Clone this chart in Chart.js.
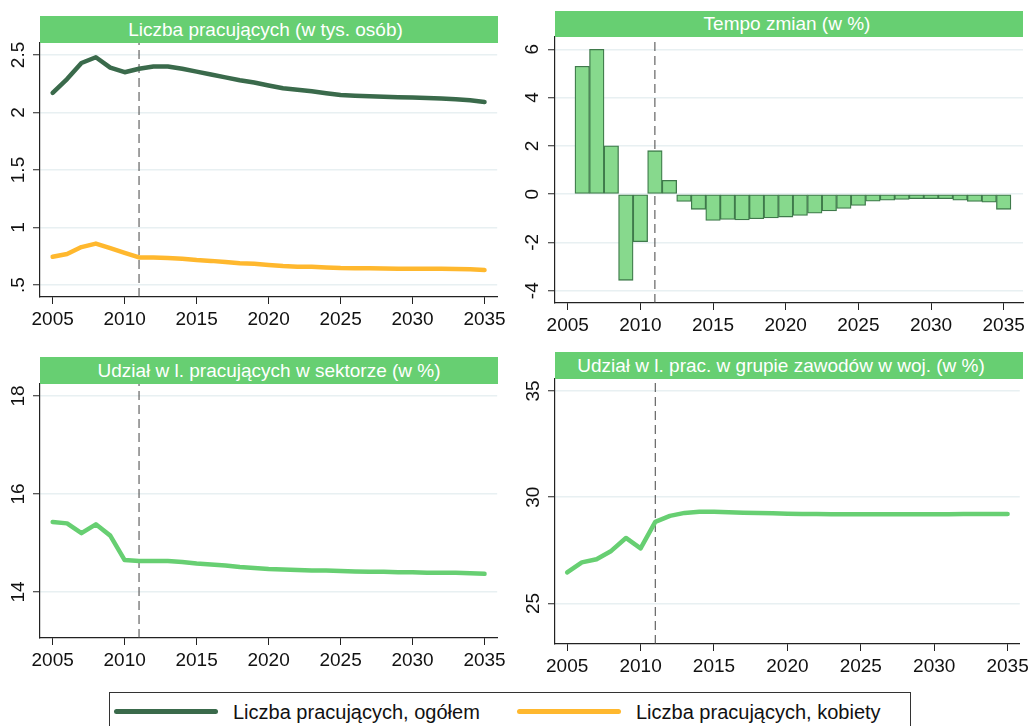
<!DOCTYPE html>
<html>
<head>
<meta charset="utf-8">
<script src="https://cdn.jsdelivr.net/npm/chart.js@4.4.1/dist/chart.umd.min.js"></script>
<style>
  html, body { margin: 0; padding: 0; background: #fff; }
  body { width: 1033px; height: 726px; overflow: hidden; position: relative; font-family: "Liberation Sans", Arial, sans-serif; }
  canvas { position: absolute; }
  .tb { position: absolute; background: #67cf72; color: #fff; font-size: 19px; text-align: center; white-space: nowrap; box-sizing: border-box; }
  .legend { position: absolute; left: 109px; top: 692px; width: 802px; height: 45px; border: 1px solid #333; background: #fff; box-sizing: border-box; }
  .sw { position: absolute; height: 5px; border-radius: 3px; }
  .lt { position: absolute; font-size: 20px; line-height: 24px; color: #111; white-space: nowrap; }
</style>
</head>
<body>

<canvas id="c1" width="510" height="340" style="left:0px;top:0px"></canvas>
<canvas id="c2" width="523" height="340" style="left:510px;top:0px"></canvas>
<canvas id="c3" width="510" height="340" style="left:0px;top:340px"></canvas>
<canvas id="c4" width="523" height="345" style="left:510px;top:340px"></canvas>

<div class="tb" id="t1" style="left:40px;top:16px;width:458px;height:27px;line-height:27px;padding-right:7px"></div>
<div class="tb" id="t2" style="left:555px;top:11px;width:468px;height:26px;line-height:26px;padding-right:4px"></div>
<div class="tb" id="t3" style="left:40px;top:357px;width:458px;height:27px;line-height:27px"></div>
<div class="tb" id="t4" style="left:555px;top:352px;width:468px;height:27px;line-height:27px;padding-right:16px"></div>

<div class="legend"></div>
<div class="sw" id="sw1" style="left:114px;top:709px;width:104px"></div>
<div class="lt" id="lt1" style="left:233px;top:700px"></div>
<div class="sw" id="sw2" style="left:517px;top:709px;width:104px"></div>
<div class="lt" id="lt2" style="left:636px;top:700px"></div>

<script>
// ---------------- DATA ----------------
const titles = [
  "Liczba pracujących (w tys. osób)",
  "Tempo zmian (w %)",
  "Udział w l. pracujących w sektorze (w %)",
  "Udział w l. prac. w grupie zawodów w woj. (w %)"
];
const legendLabels = ["Liczba pracujących, ogółem", "Liczba pracujących, kobiety"];

const years = [2005,2006,2007,2008,2009,2010,2011,2012,2013,2014,2015,2016,2017,2018,2019,2020,
               2021,2022,2023,2024,2025,2026,2027,2028,2029,2030,2031,2032,2033,2034,2035];
const growthYears = [2006,2007,2008,2009,2010,2011,2012,2013,2014,2015,2016,2017,2018,2019,2020,
                     2021,2022,2023,2024,2025,2026,2027,2028,2029,2030,2031,2032,2033,2034,2035];

const employedTotal = [2.17,2.29,2.43,2.48,2.39,2.35,2.38,2.40,2.40,2.38,2.355,2.33,2.305,2.28,2.26,2.235,
                       2.21,2.198,2.184,2.167,2.152,2.146,2.141,2.136,2.132,2.13,2.126,2.121,2.116,2.106,2.092];
const employedWomen = [0.746,0.77,0.83,0.86,0.82,0.78,0.74,0.74,0.735,0.728,0.717,0.71,0.70,0.69,0.685,0.675,
                       0.665,0.66,0.658,0.653,0.648,0.647,0.646,0.643,0.642,0.641,0.641,0.641,0.64,0.637,0.63];
const growthRate = [5.3,6.0,2.0,-3.57,-1.97,1.8,0.57,-0.3,-0.63,-1.09,-1.05,-1.07,-1.02,-0.99,-0.95,
                    -0.88,-0.79,-0.70,-0.59,-0.47,-0.29,-0.25,-0.22,-0.19,-0.19,-0.19,-0.25,-0.30,-0.33,-0.63];
const sectorShare = [15.43,15.40,15.20,15.38,15.15,14.65,14.63,14.63,14.63,14.61,14.58,14.56,14.54,14.51,14.49,14.47,
                     14.46,14.45,14.44,14.44,14.43,14.42,14.41,14.41,14.40,14.40,14.39,14.39,14.39,14.38,14.37];
const occupationShare = [26.46,26.93,27.08,27.47,28.08,27.59,28.84,29.12,29.26,29.31,29.31,29.29,29.27,29.26,29.24,29.22,
                         29.21,29.21,29.20,29.20,29.20,29.20,29.20,29.20,29.20,29.20,29.20,29.21,29.21,29.21,29.21];

const xTicks = [2005,2010,2015,2020,2025,2030,2035];
const p1YTicks = [0.5,1,1.5,2,2.5];
const p1YLabels = [".5","1","1.5","2","2.5"];
const p2YTicks = [-4,-2,0,2,4,6];
const p2YLabels = ["-4","-2","0","2","4","6"];
const p3YTicks = [14,16,18];
const p3YLabels = ["14","16","18"];
const p4YTicks = [25,30,35];
const p4YLabels = ["25","30","35"];
const markerYear = 2011;

// ---------------- STYLE ----------------
const FONT = "'Liberation Sans', Arial, sans-serif";
const C_DARK = "#3a6a4b";
const C_ORANGE = "#ffb82e";
const C_GREEN = "#67cf72";
const C_BAR = "#87d98d";
const C_BAR_EDGE = "#3f7a4b";
const C_AXIS = "#222";
const C_GRID = "#e8f0f2";

document.getElementById("t1").textContent = titles[0];
document.getElementById("t2").textContent = titles[1];
document.getElementById("t3").textContent = titles[2];
document.getElementById("t4").textContent = titles[3];
document.getElementById("lt1").textContent = legendLabels[0];
document.getElementById("lt2").textContent = legendLabels[1];
document.getElementById("sw1").style.background = C_DARK;
document.getElementById("sw2").style.background = C_ORANGE;

function pts(xs, ys) { return xs.map((x, i) => ({ x: x, y: ys[i] })); }

function markerDataset(ymin, ymax) {
  return {
    type: "line",
    data: [{ x: markerYear, y: ymin }, { x: markerYear, y: ymax }],
    borderColor: "#444",
    borderWidth: 1,
    borderDash: [9, 5],
    pointRadius: 0,
    fill: false
  };
}

function lineDataset(values, color) {
  return {
    type: "line",
    data: pts(years, values),
    borderColor: color,
    backgroundColor: color,
    borderWidth: 4.5,
    borderCapStyle: "round",
    borderJoinStyle: "round",
    pointRadius: 0,
    tension: 0,
    fill: false
  };
}

function scales(o) {
  return {
    x: {
      type: "linear", min: o.xmin, max: o.xmax, offset: false,
      afterBuildTicks: s => { s.ticks = xTicks.map(v => ({ value: v })); },
      afterFit: s => { s.height = o.xHeight; },
      grid: { offset: false, drawOnChartArea: false, drawTicks: true, tickLength: 7, tickColor: C_AXIS, tickWidth: 1 },
      border: { display: true, color: C_AXIS, width: 1.2 },
      ticks: { font: { family: FONT, size: 19 }, color: "#111", padding: 4, minRotation: 0, maxRotation: 0,
               autoSkip: false, callback: v => String(v) }
    },
    y: {
      type: "linear", min: o.ymin, max: o.ymax,
      afterBuildTicks: s => { s.ticks = o.yTicks.map(v => ({ value: v })); },
      afterFit: s => { s.width = o.yWidth; },
      grid: { color: C_GRID, lineWidth: 1.5, drawTicks: true, tickLength: 7, tickColor: C_AXIS, tickWidth: 1 },
      border: { display: true, color: C_AXIS, width: 1.2 },
      ticks: { font: { family: FONT, size: 19 }, color: "#111", padding: o.yPad, minRotation: 90, maxRotation: 90,
               crossAlign: "center", autoSkip: false,
               callback: (v, i) => o.yLabels[i] }
    }
  };
}

const common = {
  responsive: false,
  animation: false,
  devicePixelRatio: 1,
  events: [],
  plugins: { legend: { display: false }, tooltip: { enabled: false }, title: { display: false } }
};

// Panel 1
const p1 = { xmin: 2004.12, xmax: 2035.88, ymin: 0.396, ymax: 2.604, yTicks: p1YTicks, yLabels: p1YLabels,
             yWidth: 40, xHeight: 40, yPad: 1.5 };
new Chart(document.getElementById("c1"), {
  type: "line",
  data: { datasets: [lineDataset(employedTotal, C_DARK), lineDataset(employedWomen, C_ORANGE), markerDataset(p1.ymin, p1.ymax)] },
  options: Object.assign({}, common, {
    layout: { padding: { left: 0, right: 12, top: 43, bottom: 3 } },
    scales: scales(p1)
  })
});

// Panel 2
const p2 = { xmin: 2004.126, xmax: 2036.33, ymin: -4.51, ymax: 6.51, yTicks: p2YTicks, yLabels: p2YLabels,
             yWidth: 45, xHeight: 37, yPad: 7 };
new Chart(document.getElementById("c2"), {
  type: "bar",
  data: { datasets: [
    { type: "bar", data: pts(growthYears, growthRate), backgroundColor: C_BAR, borderColor: C_BAR_EDGE,
      borderWidth: 1.3, borderSkipped: false, barPercentage: 1, categoryPercentage: 1 },
    markerDataset(p2.ymin, p2.ymax)
  ] },
  options: Object.assign({}, common, {
    layout: { padding: { left: 0, right: 10, top: 37, bottom: 0 } },
    scales: scales(p2)
  })
});

// Panel 3
const p3 = { xmin: 2004.12, xmax: 2035.88, ymin: 13.06, ymax: 18.245, yTicks: p3YTicks, yLabels: p3YLabels,
             yWidth: 40, xHeight: 40, yPad: 3.5 };
new Chart(document.getElementById("c3"), {
  type: "line",
  data: { datasets: [lineDataset(sectorShare, C_GREEN), markerDataset(p3.ymin, p3.ymax)] },
  options: Object.assign({}, common, {
    layout: { padding: { left: 0, right: 12, top: 44, bottom: 2 } },
    scales: scales(p3)
  })
});

// Panel 4
const p4 = { xmin: 2004.17, xmax: 2035.83, ymin: 23.09, ymax: 35.56, yTicks: p4YTicks, yLabels: p4YLabels,
             yWidth: 45, xHeight: 40, yPad: 3.5 };
new Chart(document.getElementById("c4"), {
  type: "line",
  data: { datasets: [lineDataset(occupationShare, C_GREEN), markerDataset(p4.ymin, p4.ymax)] },
  options: Object.assign({}, common, {
    layout: { padding: { left: 0, right: 10, top: 39, bottom: 1 } },
    scales: scales(p4)
  })
});
</script>
</body>
</html>
